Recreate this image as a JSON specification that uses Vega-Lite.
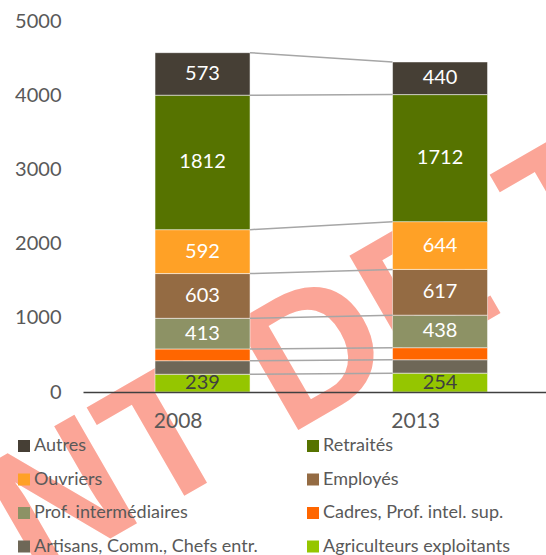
{
  "$schema": "https://vega.github.io/schema/vega-lite/v6.json",
  "width": 463,
  "height": 371,
  "autosize": {"type": "none"},
  "padding": {"left": 83, "top": 21, "right": 0, "bottom": 163},
  "background": "white",
  "config": {"view": {"stroke": null}, "font": "Lato"},
  "data": {
    "values": [
      {"year": "2008", "cat": "Agriculteurs exploitants", "rank": 1, "value": 239},
      {"year": "2008", "cat": "Artisans, Comm., Chefs entr.", "rank": 2, "value": 183},
      {"year": "2008", "cat": "Cadres, Prof. intel. sup.", "rank": 3, "value": 158},
      {"year": "2008", "cat": "Prof. intermédiaires", "rank": 4, "value": 413},
      {"year": "2008", "cat": "Employés", "rank": 5, "value": 603},
      {"year": "2008", "cat": "Ouvriers", "rank": 6, "value": 592},
      {"year": "2008", "cat": "Retraités", "rank": 7, "value": 1812},
      {"year": "2008", "cat": "Autres", "rank": 8, "value": 573},
      {"year": "2013", "cat": "Agriculteurs exploitants", "rank": 1, "value": 254},
      {"year": "2013", "cat": "Artisans, Comm., Chefs entr.", "rank": 2, "value": 181},
      {"year": "2013", "cat": "Cadres, Prof. intel. sup.", "rank": 3, "value": 162},
      {"year": "2013", "cat": "Prof. intermédiaires", "rank": 4, "value": 438},
      {"year": "2013", "cat": "Employés", "rank": 5, "value": 617},
      {"year": "2013", "cat": "Ouvriers", "rank": 6, "value": 644},
      {"year": "2013", "cat": "Retraités", "rank": 7, "value": 1712},
      {"year": "2013", "cat": "Autres", "rank": 8, "value": 440}
    ]
  },
  "layer": [
    {
      "data": {"values": [{"mark": "DOCUMENT DE TRAVAIL"}]},
      "mark": {"type": "text", "font": "Liberation Sans", "fontWeight": "bold", "fontSize": 182, "angle": 330, "align": "center", "baseline": "middle", "color": "#FBA597", "dx": 48},
      "encoding": {
        "text": {"field": "mark"},
        "x": {"datum": "2008"},
        "y": {"datum": -400}
      }
    },
    {
      "mark": {"type": "bar", "stroke": "white", "strokeOpacity": 0.5, "strokeWidth": 1},
      "encoding": {
        "x": {
          "field": "year", "type": "nominal", "sort": ["2008", "2013"],
          "scale": {"paddingInner": 0.6, "paddingOuter": 0.2747, "align": 0.552},
          "axis": {"title": null, "labelAngle": 0, "ticks": false, "zindex": 1, "domainColor": "#404040", "domainWidth": 1.5, "labelFontSize": 21, "labelPadding": 29, "labelColor": "#595959", "labelFont": "Lato"}
        },
        "y": {
          "field": "value", "type": "quantitative", "stack": "zero",
          "scale": {"domain": [0, 5000]},
          "axis": {"title": null, "values": [0, 1000, 2000, 3000, 4000, 5000], "format": "d", "domain": false, "ticks": false, "labelPadding": 22, "labelFontSize": 20, "labelColor": "#595959", "labelFont": "Lato", "gridColor": "#d9d9d9", "gridWidth": 1.5}
        },
        "color": {
          "field": "cat", "type": "nominal",
          "scale": {
            "domain": ["Autres", "Retraités", "Ouvriers", "Employés", "Prof. intermédiaires", "Cadres, Prof. intel. sup.", "Artisans, Comm., Chefs entr.", "Agriculteurs exploitants"],
            "range": ["#463F35", "#567300", "#FFA126", "#946B43", "#8D9265", "#FF6600", "#6E6757", "#95C600"]
          },
          "legend": {
            "title": null, "orient": "none", "direction": "horizontal", "legendX": -68, "legendY": 416, "columns": 2,
            "columnPadding": 46, "rowPadding": 15.5, "symbolType": "square", "symbolSize": 144,
            "symbolStrokeWidth": 0, "labelFontSize": 18, "labelColor": "#595959", "labelFont": "Lato",
            "labelLimit": 400, "labelOffset": 1
          }
        },
        "order": {"field": "rank", "type": "quantitative"}
      }
    },
    {
      "transform": [
        {"stack": "value", "groupby": ["year"], "sort": [{"field": "rank"}], "as": ["y0", "y1"]},
        {"pivot": "year", "value": "y1", "groupby": ["cat"]}
      ],
      "mark": {"type": "rule", "color": "#a6a6a6", "strokeWidth": 1.5},
      "encoding": {
        "x": {"datum": "2008", "bandPosition": 1},
        "x2": {"datum": "2013", "bandPosition": 0},
        "y": {"field": "2008", "type": "quantitative"},
        "y2": {"field": "2013"}
      }
    },
    {
      "mark": {"type": "text", "fontSize": 20, "font": "Lato", "baseline": "middle"},
      "encoding": {
        "x": {"field": "year", "type": "nominal", "sort": ["2008", "2013"]},
        "y": {"field": "value", "type": "quantitative", "stack": "zero", "bandPosition": 0.5},
        "order": {"field": "rank", "type": "quantitative"},
        "text": {"condition": {"test": "datum.cat === 'Artisans, Comm., Chefs entr.' || datum.cat === 'Cadres, Prof. intel. sup.'", "value": ""}, "field": "value", "type": "quantitative"},
        "color": {"condition": {"test": "datum.cat === 'Agriculteurs exploitants'", "value": "#404040"}, "value": "white"}
      }
    }
  ]
}
